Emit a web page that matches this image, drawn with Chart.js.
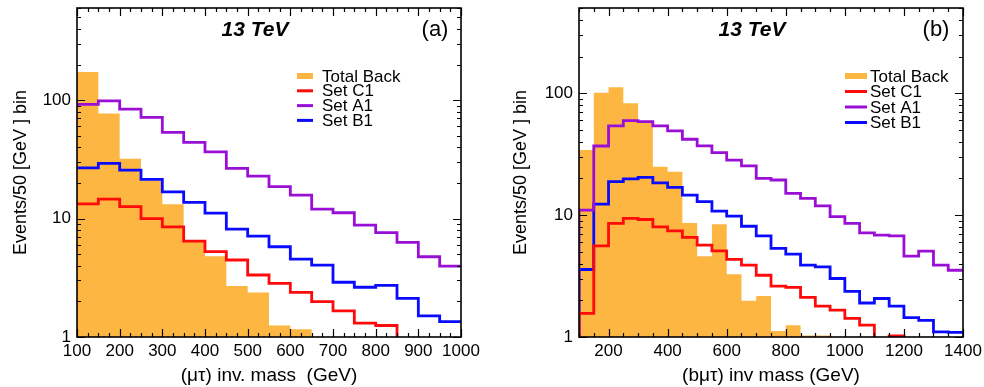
<!DOCTYPE html>
<html>
<head>
<meta charset="utf-8">
<script src="https://cdn.jsdelivr.net/npm/chart.js@4.4.1/dist/chart.umd.min.js"></script>
<style>
    body { margin: 0; background: #fff; }
    .panel { position: absolute; top: 0; width: 492px; height: 387px; }
</style>
</head>
<body>
<div class="panel" style="left:0"><canvas id="muTauChart" width="492" height="387"></canvas></div>
<div class="panel" style="left:492px"><canvas id="bMuTauChart" width="492" height="387"></canvas></div>
<script>
// panel (a): (mu tau) invariant mass, 50 GeV bins, values are bin contents
var lowEdgesA = [100, 150, 200, 250, 300, 350, 400, 450, 500, 550, 600, 650, 700, 750, 800, 850, 900, 950];
var upperEdgeA = 1000;
var totalBackA = [173, 77, 32, 21, 13.2, 6.6, 4.8, 2.7, 2.37, 1.25, 1.16, 0.5, 0.5, 0.5, 0.5, 0.5, 0.5, 0.5];
var setC1A = [13.3, 14.6, 12.6, 10.0, 8.5, 6.46, 5.25, 4.47, 3.34, 2.84, 2.38, 1.99, 1.66, 1.31, 1.25, 0.7, 0.6, 0.5];
var setA1A = [92, 98.6, 84, 71.5, 53.4, 44, 36.6, 26.5, 22.8, 18.6, 15.8, 12, 11.2, 8.8, 7.6, 6.3, 4.76, 3.97];
var setB1A = [26.8, 29.2, 25.7, 21.4, 16.8, 13.7, 11.1, 8.15, 7.1, 5.78, 4.55, 4.05, 2.9, 2.63, 2.73, 2.12, 1.51, 1.35];

// panel (b): (b mu tau) invariant mass
var lowEdgesB = [100, 150, 200, 250, 300, 350, 400, 450, 500, 550, 600, 650, 700, 750, 800, 850, 900, 950,
                 1000, 1050, 1100, 1150, 1200, 1250, 1300, 1350];
var upperEdgeB = 1400;
var totalBackB = [34.2, 101, 112, 82.8, 57, 24.9, 22.7, 8.6, 4.6, 8.4, 3.27, 1.98, 2.17, 1.12, 1.25, 1.03, 1.03,
                  0.5, 0.5, 0.5, 0.5, 0.5, 0.5, 0.5, 0.5, 0.5];
var setC1B = [1.56, 5.6, 8.55, 9.4, 9.2, 8.0, 7.43, 6.56, 5.67, 5.09, 4.33, 3.88, 3.21, 2.61, 2.55, 2.11, 1.79,
              1.66, 1.42, 1.25, 0.6, 1.02, 0.6, 0.5, 0.5, 0.5];
var setA1B = [11, 36.9, 53.9, 59.5, 58.4, 53.9, 49, 41.9, 37, 32.5, 28.3, 25.3, 20, 19.4, 15.1, 13.7, 11.9,
              9.7, 8.55, 7.16, 6.85, 6.76, 4.6, 5.06, 3.88, 3.53];
var setB1B = [3.58, 12.3, 18.8, 19.8, 20.4, 18.4, 16.9, 14.6, 12.9, 10.8, 9.8, 8.1, 6.76, 5.33, 4.78, 3.88, 3.76,
              3.02, 2.37, 1.9, 2.07, 1.79, 1.44, 1.37, 1.1, 1.09];

var xTickLabelsA = [100, 200, 300, 400, 500, 600, 700, 800, 900, 1000];
var xTickLabelsB = [200, 400, 600, 800, 1000, 1200, 1400];
var yTickLabels = [1, 10, 100];

var FONT = "'Liberation Sans', Arial, Helvetica, sans-serif";

// histogram as step points: one point per low edge, plus the upper edge
function histPoints(edges, values, upper, fromFloor) {
    var pts = [];
    if (fromFloor) pts.push({ x: edges[0], y: 0.1 });
    for (var i = 0; i < edges.length; i++) pts.push({ x: edges[i], y: values[i] });
    pts.push({ x: upper, y: values[values.length - 1] });
    return pts;
}

// ROOT style frame with inward ticks on all four sides
var frameTicks = {
    id: 'frameTicks',
    afterDatasetsDraw: function (chart, args, opts) {
        var ctx = chart.ctx, a = chart.chartArea, x = chart.scales.x, y = chart.scales.y;
        ctx.save();
        ctx.strokeStyle = '#000';
        ctx.lineWidth = 1.2;
        ctx.beginPath();
        for (var v = x.min; v <= x.max + 0.01; v += opts.xMinor) {
            var px = Math.round(x.getPixelForValue(v)) + 0.5;
            var len = (Math.round(v) % opts.xMajor === 0) ? 8 : 4;
            ctx.moveTo(px, a.bottom); ctx.lineTo(px, a.bottom - len);
            ctx.moveTo(px, a.top); ctx.lineTo(px, a.top + len);
        }
        for (var d = 1; d <= y.max; d *= 10) {
            for (var k = 1; k < 10; k++) {
                var val = k * d;
                if (val > y.max) break;
                var py = Math.round(y.getPixelForValue(val)) + 0.5;
                var l = k === 1 ? 8 : 4;
                ctx.moveTo(a.left, py); ctx.lineTo(a.left + l, py);
                ctx.moveTo(a.right, py); ctx.lineTo(a.right - l, py);
            }
        }
        ctx.stroke();
        ctx.lineWidth = 1.6;
        ctx.strokeRect(a.left, a.top, a.right - a.left, a.bottom - a.top);
        ctx.restore();
    }
};

// energy label, panel letter and the legend box inside the frame
var panelText = {
    id: 'panelText',
    afterDraw: function (chart, args, opts) {
        var ctx = chart.ctx;
        ctx.save();
        ctx.fillStyle = '#000';
        ctx.textBaseline = 'middle';
        ctx.textAlign = 'center';
        ctx.font = 'italic bold 21px ' + FONT;
        ctx.fillText('13 TeV', opts.energyX, opts.textY);
        ctx.font = '22px ' + FONT;
        ctx.fillText(opts.panelLabel, opts.panelX, opts.textY);

        ctx.textAlign = 'left';
        ctx.font = '17px ' + FONT;
        var lg = opts.legend;
        chart.data.datasets.forEach(function (ds, i) {
            var cy = lg.y + i * lg.rowH;
            if (ds.fill) {
                ctx.fillStyle = ds.backgroundColor;
                ctx.fillRect(lg.x, cy - 3, lg.symW, 6);
            } else {
                ctx.strokeStyle = ds.borderColor;
                ctx.lineWidth = 3;
                ctx.beginPath();
                ctx.moveTo(lg.x, cy);
                ctx.lineTo(lg.x + lg.symW, cy);
                ctx.stroke();
            }
            ctx.fillStyle = '#000';
            ctx.fillText(ds.label, lg.textX, cy + 1);
        });
        ctx.restore();
    }
};

function lineSet(label, color, data) {
    return {
        label: label, data: data, borderColor: color, borderWidth: 2.8,
        stepped: true, pointRadius: 0, fill: false, order: 1
    };
}

function makeChart(id, cfg) {
    return new Chart(document.getElementById(id).getContext('2d'), {
        type: 'line',
        data: {
            datasets: [
                {
                    label: 'Total Back',
                    data: histPoints(cfg.edges, cfg.back, cfg.upper, false),
                    backgroundColor: '#FCB641', borderWidth: 0, stepped: true,
                    pointRadius: 0, fill: 'start', order: 10
                },
                lineSet('Set C1', '#FF0A0A', histPoints(cfg.edges, cfg.c1, cfg.upper, cfg.fromFloor)),
                lineSet('Set A1', '#9A0FD6', histPoints(cfg.edges, cfg.a1, cfg.upper, cfg.fromFloor)),
                lineSet('Set B1', '#0A0AFF', histPoints(cfg.edges, cfg.b1, cfg.upper, cfg.fromFloor))
            ]
        },
        options: {
            responsive: false,
            animation: false,
            layout: { padding: { top: 8, right: cfg.padRight, left: 0, bottom: 0 } },
            plugins: {
                legend: { display: false },
                tooltip: { enabled: false },
                frameTicks: { xMinor: cfg.xMinor, xMajor: cfg.xMajor },
                panelText: {
                    energyX: cfg.energyX, panelX: cfg.panelX, panelLabel: cfg.panelLabel, textY: 30,
                    legend: cfg.legend
                }
            },
            scales: {
                x: {
                    type: 'linear',
                    min: cfg.edges[0],
                    max: cfg.upper,
                    grid: { display: false, drawTicks: false },
                    border: { display: false },
                    ticks: {
                        stepSize: 100, autoSkip: false, maxRotation: 0, padding: 4,
                        color: '#000', font: { family: FONT, size: 17 },
                        callback: function (v) { return cfg.xLabels.indexOf(v) >= 0 ? String(v) : ''; }
                    },
                    title: {
                        display: true, text: cfg.xTitle, color: '#000',
                        font: { family: FONT, size: 19 }, padding: { top: 1, bottom: 0 }
                    },
                    afterFit: function (s) { s.height = 50; s.paddingLeft = 0; s.paddingRight = 0; }
                },
                y: {
                    type: 'logarithmic',
                    min: 1,
                    max: cfg.yMax,
                    grid: { display: false, drawTicks: false },
                    border: { display: false },
                    ticks: {
                        padding: 6, color: '#000', font: { family: FONT, size: 17 },
                        callback: function (v) {
                            for (var i = 0; i < yTickLabels.length; i++) {
                                if (Math.abs(v - yTickLabels[i]) < 1e-6) return String(yTickLabels[i]);
                            }
                            return '';
                        }
                    },
                    title: {
                        display: true, text: 'Events/50 [GeV ] bin', color: '#000',
                        font: { family: FONT, size: 18 }, padding: { top: cfg.yTitlePad, bottom: 0 }
                    },
                    afterFit: function (s) { s.width = cfg.yWidth; s.paddingTop = 0; s.paddingBottom = 0; }
                }
            }
        },
        plugins: [frameTicks, panelText]
    });
}

document.addEventListener('DOMContentLoaded', function () {
    makeChart('muTauChart', {
        edges: lowEdgesA, upper: upperEdgeA, back: totalBackA,
        c1: setC1A, a1: setA1A, b1: setB1A, fromFloor: false,
        yMax: 600, yWidth: 77, yTitlePad: 10, padRight: 31,
        xLabels: xTickLabelsA, xMinor: 25, xMajor: 100,
        xTitle: '(\u03bc\u03c4) inv. mass  (GeV)',
        energyX: 255, panelX: 435, panelLabel: '(a)',
        legend: { x: 297, symW: 16, textX: 322, y: 76, rowH: 14.8 }
    });
    makeChart('bMuTauChart', {
        edges: lowEdgesB, upper: upperEdgeB, back: totalBackB,
        c1: setC1B, a1: setA1B, b1: setB1B, fromFloor: true,
        yMax: 500, yWidth: 87, yTitlePad: 18, padRight: 21,
        xLabels: xTickLabelsB, xMinor: 50, xMajor: 200,
        xTitle: '(b\u03bc\u03c4) inv mass (GeV)',
        energyX: 260, panelX: 444, panelLabel: '(b)',
        legend: { x: 353, symW: 22, textX: 378, y: 76, rowH: 15.5 }
    });
});
</script>
</body>
</html>
